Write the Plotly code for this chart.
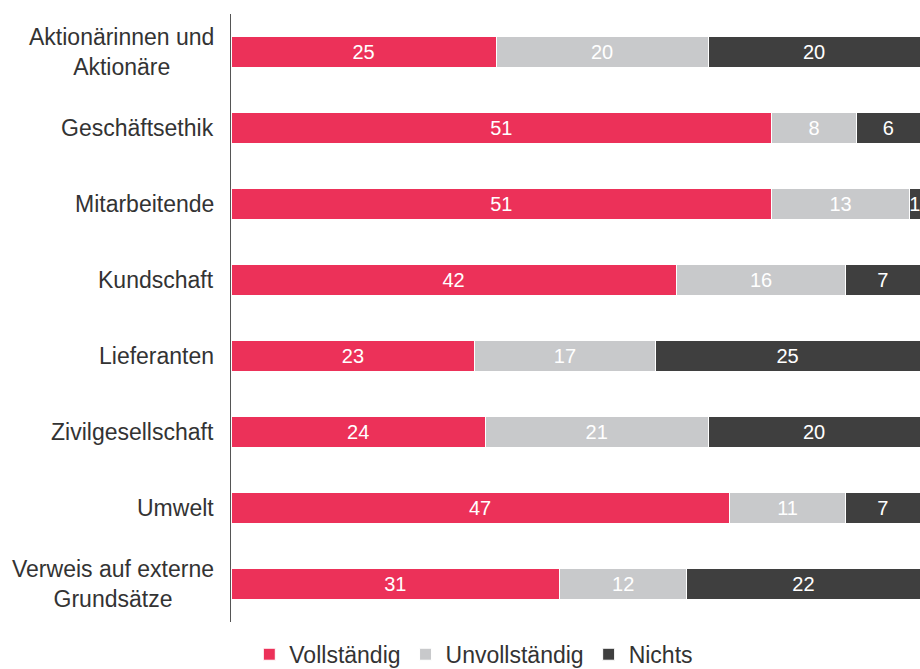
import plotly.graph_objects as go

categories = ["Aktionärinnen und<br>Aktionäre", "Geschäftsethik", "Mitarbeitende", "Kundschaft",
              "Lieferanten", "Zivilgesellschaft", "Umwelt", "Verweis auf externe<br>Grundsätze"]
vollstaendig = [25, 51, 51, 42, 23, 24, 47, 31]
unvollstaendig = [20, 8, 13, 16, 17, 21, 11, 12]
nichts = [20, 6, 1, 7, 25, 20, 7, 22]
series_names = ["Vollständig", "Unvollständig", "Nichts"]
colors = ["#EC3159", "#C8C9CB", "#3F3F3F"]

FONT = "Liberation Sans, Arial, sans-serif"

fig = go.Figure()
for name, vals, col in zip(series_names, [vollstaendig, unvollstaendig, nichts], colors):
    fig.add_trace(go.Bar(
        y=categories, x=vals, name=name, orientation="h",
        marker=dict(color=col, line=dict(color="white", width=1)),
        text=vals, texttemplate="%{x}", textposition="inside",
        insidetextanchor="middle", constraintext="none",
        insidetextfont=dict(color="white", size=20, family=FONT),
        hoverinfo="skip",
    ))

for c in categories:
    fig.add_annotation(x=0, xref="paper", y=c, yref="y", text=c, showarrow=False,
                       xanchor="right", xshift=-15, align="center",
                       font=dict(size=23, color="#333333", family=FONT))

fig.update_layout(
    width=920, height=669,
    barmode="stack", bargap=0.605,
    margin=dict(l=231, r=0, t=14, b=47, autoexpand=False),
    paper_bgcolor="white", plot_bgcolor="white",
    font=dict(family=FONT, color="#333333"),
    xaxis=dict(range=[0, 65], visible=False, fixedrange=True),
    yaxis=dict(categoryorder="array", categoryarray=categories, autorange="reversed",
               showticklabels=False, showline=True, linecolor="#555555", linewidth=1,
               ticks="", showgrid=False, zeroline=False, fixedrange=True),
    legend=dict(orientation="h", xref="container", yref="container", x=0.515, y=0.022,
                xanchor="center", yanchor="middle", font=dict(size=23, color="#333333", family=FONT),
                itemwidth=30, traceorder="normal"),
)

fig.write_html("out.html", config={"displayModeBar": False},
               post_script="document.body.style.margin='0';document.body.style.overflow='hidden';")
